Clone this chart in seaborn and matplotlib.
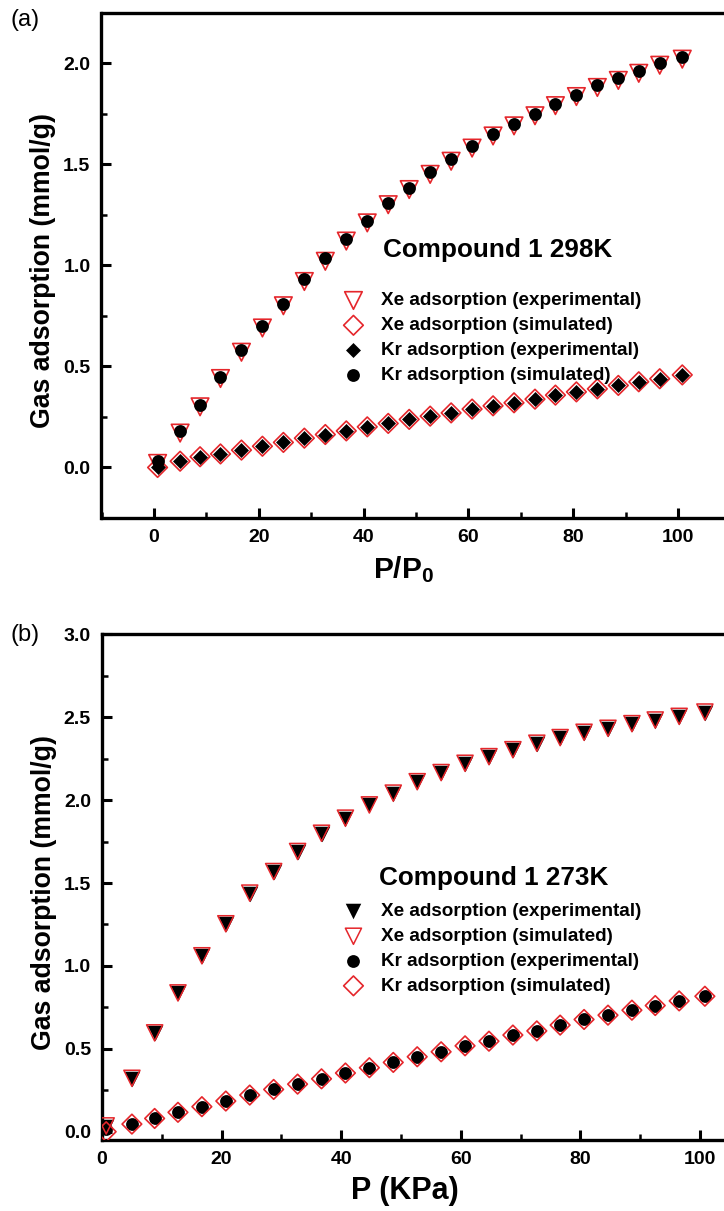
import matplotlib
matplotlib.use("Agg")
import matplotlib.pyplot as plt
import seaborn as sns
from matplotlib.ticker import MultipleLocator, FormatStrFormatter

# ---------------- data ----------------
pressure = [0.7, 5.0, 8.8, 12.7, 16.7, 20.7, 24.7, 28.7, 32.7, 36.7, 40.7, 44.7, 48.7,
            52.7, 56.7, 60.7, 64.7, 68.7, 72.7, 76.6, 80.6, 84.6, 88.6, 92.5, 96.5, 100.8]

# panel (a) 298 K : upper curve (red hollow triangles + black circles)
a_upper_tri = [0.02, 0.17, 0.30, 0.44, 0.57, 0.69, 0.80, 0.92, 1.02, 1.12, 1.21, 1.30, 1.375,
               1.45, 1.515, 1.58, 1.64, 1.69, 1.74, 1.79, 1.835, 1.88, 1.915, 1.95, 1.99, 2.02]
a_upper_circ = [0.03, 0.18, 0.31, 0.45, 0.58, 0.70, 0.81, 0.93, 1.035, 1.13, 1.22, 1.31, 1.385,
                1.46, 1.525, 1.59, 1.65, 1.70, 1.75, 1.80, 1.845, 1.89, 1.925, 1.96, 2.0, 2.03]
# panel (a) lower curve (red hollow diamonds + black diamonds)
a_lower_red = [0.0, 0.031, 0.053, 0.067, 0.086, 0.105, 0.124, 0.145, 0.163, 0.181, 0.201, 0.218,
               0.238, 0.254, 0.27, 0.289, 0.305, 0.32, 0.338, 0.358, 0.374, 0.389, 0.406, 0.424,
               0.439, 0.458]
a_lower_black = [0.003, 0.031, 0.053, 0.067, 0.086, 0.105, 0.124, 0.145, 0.163, 0.181, 0.201,
                 0.218, 0.238, 0.254, 0.27, 0.289, 0.305, 0.32, 0.338, 0.358, 0.374, 0.389, 0.406,
                 0.424, 0.439, 0.458]
labels_a = ["Xe adsorption (experimental)", "Xe adsorption (simulated)",
            "Kr adsorption (experimental)", "Kr adsorption (simulated)"]

# panel (b) 273 K
b_xe_exp = [0.03, 0.319, 0.593, 0.834, 1.058, 1.251, 1.436, 1.566, 1.687, 1.797, 1.888, 1.968,
            2.039, 2.108, 2.163, 2.219, 2.259, 2.301, 2.34, 2.374, 2.406, 2.43, 2.458, 2.48,
            2.502, 2.528]
b_xe_sim = [0.035, 0.322, 0.596, 0.837, 1.061, 1.254, 1.439, 1.569, 1.69, 1.80, 1.891, 1.971,
            2.042, 2.111, 2.166, 2.222, 2.262, 2.304, 2.343, 2.377, 2.409, 2.433, 2.461, 2.483,
            2.505, 2.531]
b_kr_exp = [0.016, 0.046, 0.08, 0.117, 0.151, 0.185, 0.221, 0.255, 0.287, 0.319, 0.354, 0.386,
            0.418, 0.452, 0.482, 0.518, 0.546, 0.583, 0.608, 0.643, 0.677, 0.703, 0.733, 0.761,
            0.789, 0.817]
b_kr_sim = [0.0, 0.046, 0.08, 0.117, 0.151, 0.185, 0.221, 0.255, 0.287, 0.319, 0.354, 0.386,
            0.418, 0.452, 0.482, 0.518, 0.546, 0.583, 0.608, 0.643, 0.677, 0.703, 0.733, 0.761,
            0.789, 0.817]
labels_b = ["Xe adsorption (experimental)", "Xe adsorption (simulated)",
            "Kr adsorption (experimental)", "Kr adsorption (simulated)"]

ticks_a_y = [0.0, 0.5, 1.0, 1.5, 2.0]
ticks_b_y = [0.0, 0.5, 1.0, 1.5, 2.0, 2.5, 3.0]
ticks_x = [0, 20, 40, 60, 80, 100]

# ---------------- style ----------------
sns.set_style("white")
plt.rcParams["font.family"] = ["Liberation Sans", "DejaVu Sans"]
plt.rcParams["font.weight"] = "bold"
plt.rcParams["text.color"] = "black"
plt.rcParams["axes.labelcolor"] = "black"
plt.rcParams["xtick.color"] = "black"
plt.rcParams["ytick.color"] = "black"
plt.rcParams["mathtext.fontset"] = "custom"
plt.rcParams["mathtext.rm"] = "Liberation Sans:bold"
plt.rcParams["mathtext.it"] = "Liberation Sans:bold"
plt.rcParams["mathtext.bf"] = "Liberation Sans:bold"

RED = "#e5262b"
W, H = 724, 1211

fig = plt.figure(figsize=(W / 100, H / 100), dpi=100)
fig.patch.set_facecolor("white")

ax1 = fig.add_axes([101.5 / W, 1 - 518 / H, 629 / W, 505.3 / H])
ax2 = fig.add_axes([102 / W, 1 - 1140 / H, 628 / W, 505.7 / H])


def style_axes(ax, xlim, ylim, yticks):
    ax.set_xlim(*xlim)
    ax.set_ylim(*ylim)
    ax.set_xticks(ticks_x)
    ax.set_yticks(yticks)
    ax.xaxis.set_minor_locator(MultipleLocator(10))
    ax.yaxis.set_minor_locator(MultipleLocator(0.25))
    ax.yaxis.set_major_formatter(FormatStrFormatter("%.1f"))
    ax.tick_params(which="major", direction="in", length=7, width=2.2, color="black",
                   labelsize=14, pad=8, bottom=True, left=True, top=False, right=False,
                   labelcolor="black")
    ax.tick_params(which="minor", direction="in", length=4, width=1.8, color="black",
                   bottom=True, left=True, top=False, right=False)
    for s in ax.spines.values():
        s.set_linewidth(2.4)
        s.set_color("black")
    ax.set_facecolor("white")
    ax.grid(False)


# ---------------- panel (a) ----------------
sns.scatterplot(x=pressure, y=a_upper_tri, ax=ax1, marker="v", s=160, facecolor="none",
                edgecolor=RED, linewidth=1.2, label=labels_a[0], zorder=3)
sns.scatterplot(x=pressure, y=a_lower_red, ax=ax1, marker="D", s=100, facecolor="none",
                edgecolor=RED, linewidth=1.2, label=labels_a[1], zorder=3)
sns.scatterplot(x=pressure, y=a_lower_black, ax=ax1, marker="D", s=58, color="black",
                edgecolor="black", linewidth=0, label=labels_a[2], zorder=4)
sns.scatterplot(x=pressure, y=a_upper_circ, ax=ax1, marker="o", s=85, color="black",
                edgecolor="black", linewidth=0, label=labels_a[3], zorder=4)

style_axes(ax1, (-10, 110), (-0.25, 2.25), ticks_a_y)
ax1.set_xlabel("P/P$_{\\mathrm{0}}$", fontsize=21.5, fontweight="bold")
ax1.xaxis.set_label_coords(0.481, -0.072)
ax1.set_ylabel("Gas adsorption (mmol/g)", fontsize=19.2, fontweight="bold")
ax1.yaxis.set_label_coords(-0.072, 0.49)

h, l = ax1.get_legend_handles_labels()
order = [l.index(t) for t in labels_a]
ax1.legend([h[i] for i in order], [l[i] for i in order], loc="center left",
           bbox_to_anchor=(344 / W, 1 - 338 / H), bbox_transform=fig.transFigure,
           frameon=False, fontsize=13.6, labelspacing=0.4, handlelength=1.0,
           handletextpad=0.95, borderpad=0, borderaxespad=0)
fig.text(383 / W, 1 - 256.7 / H, "Compound 1 298K", fontsize=18.8, fontweight="bold",
         ha="left", va="baseline")
fig.text(10 / W, 1 - 20 / H, "(a)", fontsize=17, fontweight="normal", ha="left", va="center")

# ---------------- panel (b) ----------------
sns.scatterplot(x=pressure, y=b_xe_exp, ax=ax2, marker="v", s=125, color="black",
                edgecolor="black", linewidth=0, label=labels_b[0], zorder=3)
sns.scatterplot(x=pressure, y=b_xe_sim, ax=ax2, marker="v", s=135, facecolor="none",
                edgecolor=RED, linewidth=1.1, label=labels_b[1], zorder=4)
sns.scatterplot(x=pressure, y=b_kr_exp, ax=ax2, marker="o", s=85, color="black",
                edgecolor="black", linewidth=0, label=labels_b[2], zorder=3)
sns.scatterplot(x=pressure, y=b_kr_sim, ax=ax2, marker="D", s=100, facecolor="none",
                edgecolor=RED, linewidth=1.2, label=labels_b[3], zorder=4)

style_axes(ax2, (0, 105), (-0.05, 3.0), ticks_b_y)
ax2.set_xlabel("P (KPa)", fontsize=22, fontweight="bold")
ax2.xaxis.set_label_coords(0.482, -0.072)
ax2.set_ylabel("Gas adsorption (mmol/g)", fontsize=19.2, fontweight="bold")
ax2.yaxis.set_label_coords(-0.072, 0.49)

h, l = ax2.get_legend_handles_labels()
order = [l.index(t) for t in labels_b]
ax2.legend([h[i] for i in order], [l[i] for i in order], loc="center left",
           bbox_to_anchor=(344 / W, 1 - 949 / H), bbox_transform=fig.transFigure,
           frameon=False, fontsize=13.6, labelspacing=0.4, handlelength=1.0,
           handletextpad=0.95, borderpad=0, borderaxespad=0)
fig.text(379 / W, 1 - 885 / H, "Compound 1 273K", fontsize=18.8, fontweight="bold",
         ha="left", va="baseline")
fig.text(10 / W, 1 - 635 / H, "(b)", fontsize=17, fontweight="normal", ha="left", va="center")

fig.savefig("out.png", dpi=100, facecolor="white")
